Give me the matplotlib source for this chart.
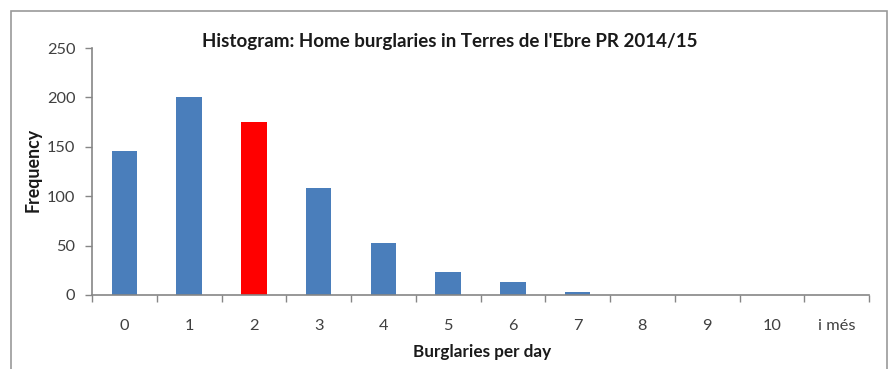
import matplotlib
matplotlib.use("Agg")
import matplotlib.pyplot as plt
from matplotlib.patches import Rectangle

# Daily home burglary counts, Terres de l'Ebre PR 2014/15
categories = ["0", "1", "2", "3", "4", "5", "6", "7", "8", "9", "10", "i més"]
frequency = [146, 200, 175, 108, 53, 23, 13, 3, 0, 0, 0, 0]
highlight = "2"
y_ticks = [0, 50, 100, 150, 200, 250]

plt.rcParams["font.family"] = ["Lato", "DejaVu Sans"]

fig = plt.figure(figsize=(8.9, 3.69), dpi=100)
W, H = 890, 369

# outer chart frame
fig.patches.append(Rectangle((11 / W, -0.05), (887 - 11) / W, 1.05 - 11 / H,
                             transform=fig.transFigure, fill=False,
                             edgecolor="#9a9a9a", linewidth=1.2))

ax = fig.add_axes([92 / W, 1 - 295 / H, (869 - 92) / W, (295 - 48) / H])

blue = "#4a7ebb"
red = "#ff0000"
colors = [red if c == highlight else blue for c in categories]
x = list(range(len(categories)))
ax.bar(x, frequency, width=0.39, color=colors, zorder=2)

ax.set_xlim(-0.5, len(categories) - 0.5)
ax.set_ylim(0, 250)
ax.set_yticks(y_ticks)
ax.set_yticklabels([str(v) for v in y_ticks])

# category labels centred, tick marks on category boundaries
ax.set_xticks(x)
ax.set_xticklabels(categories)
ax.tick_params(axis="x", which="major", length=0, pad=17, labelsize=11.8,
               labelcolor="#404040")
ax.set_xticks([i - 0.5 for i in range(len(categories) + 1)], minor=True)
ax.tick_params(axis="x", which="minor", length=5, width=1, color="#868686",
               direction="out")
ax.tick_params(axis="y", length=5, width=1, color="#868686", pad=7,
               labelsize=11.8, labelcolor="#404040")

for side in ("top", "right"):
    ax.spines[side].set_visible(False)
for side in ("left", "bottom"):
    ax.spines[side].set_color("#868686")
    ax.spines[side].set_linewidth(1.2)

fig.text(450 / W, 1 - 41 / H,
         "Histogram: Home burglaries in Terres de l'Ebre PR 2014/15",
         ha="center", va="center", fontsize=13.5, fontweight="bold",
         color="#1a1a1a")
fig.text(482 / W, 1 - 352 / H, "Burglaries per day", ha="center",
         va="center", fontsize=12.3, fontweight="bold", color="#1a1a1a")
fig.text(33 / W, 1 - 170 / H, "Frequency", ha="center", va="center",
         rotation=90, fontsize=12.8, fontweight="bold", color="#1a1a1a")

fig.savefig("out.png", dpi=100, facecolor="white")
